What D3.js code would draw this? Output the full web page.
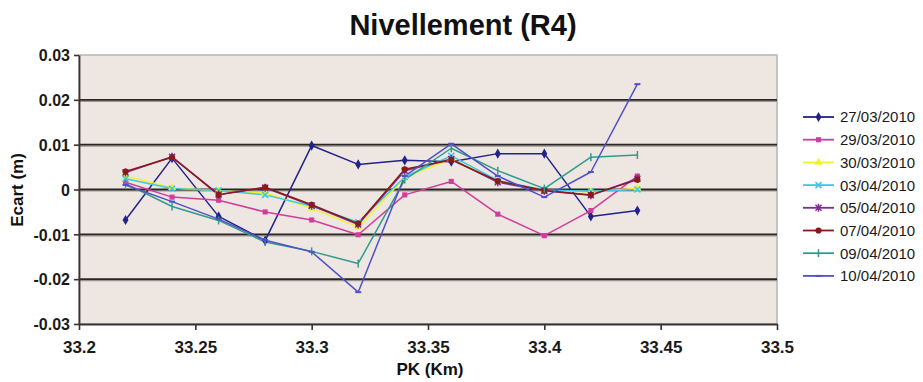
<!DOCTYPE html>
<html><head><meta charset="utf-8">
<script src="https://cdn.jsdelivr.net/npm/d3@7"></script>
<style>
html,body{margin:0;padding:0;background:#fff;}
svg{display:block;font-family:"Liberation Sans",Arial,Helvetica,sans-serif;}
</style></head>
<body><svg id="c" width="923" height="382"></svg>
<script>
const pk = [33.22,33.24,33.26,33.28,33.30,33.32,33.34,33.36,33.38,33.40,33.42,33.44];
const s27_03 = [-0.0068,0.0070,-0.0060,-0.0114,0.0098,0.0056,0.0065,0.0062,0.0080,0.0080,-0.0060,-0.0047];
const s29_03 = [0.0016,-0.0017,-0.0024,-0.0050,-0.0068,-0.0101,-0.0012,0.0018,-0.0055,-0.0103,-0.0047,0.0030];
const s30_03 = [0.0030,0.0004,-0.0003,-0.0008,-0.0042,-0.0084,0.0027,0.0068,0.0018,-0.0003,-0.0005,0.0003];
const s03_04 = [0.0024,0.0002,-0.0002,-0.0012,-0.0037,-0.0073,0.0028,0.0075,0.0020,-0.0001,-0.0004,0.0000];
const s05_04 = [0.0038,0.0073,-0.0011,0.0004,-0.0036,-0.0078,0.0042,0.0068,0.0016,-0.0003,-0.0013,0.0024];
const s07_04 = [0.0040,0.0072,-0.0012,0.0005,-0.0034,-0.0076,0.0045,0.0066,0.0019,-0.0002,-0.0012,0.0022];
const s09_04 = [0.0013,-0.0038,-0.0069,-0.0117,-0.0138,-0.0165,0.0022,0.0092,0.0042,0.0002,0.0072,0.0077];
const s10_04 = [0.0010,-0.0027,-0.0066,-0.0113,-0.0139,-0.0229,0.0030,0.0102,0.0030,-0.0017,0.0039,0.0235];
const seriesNames = ["27/03/2010","29/03/2010","30/03/2010","03/04/2010","05/04/2010","07/04/2010","09/04/2010","10/04/2010"];
const seriesValues = [s27_03,s29_03,s30_03,s03_04,s05_04,s07_04,s09_04,s10_04];
const seriesColors = ["#22228a","#d23c9c","#f2f22a","#3cc8e6","#7a2e94","#8a1a1a","#2f9c8e","#5050c8"];
const seriesMarkers = ["diamond","square","triangle","x","star","circle","plus","dash"];
const xTicks = [33.2,33.25,33.3,33.35,33.4,33.45,33.5];
const yTicks = [-0.03,-0.02,-0.01,0,0.01,0.02,0.03];
const title = "Nivellement (R4)";
const xLabel = "PK (Km)";
const yLabel = "Ecart (m)";

const svg = d3.select("#c");
const L = 79, R = 777, T = 55, B = 324;
const x = d3.scaleLinear().domain([33.2,33.5]).range([L,R]);
const y = d3.scaleLinear().domain([-0.03,0.03]).range([B,T]);

// plot background
svg.append("rect").attr("x",L).attr("y",T).attr("width",R-L).attr("height",B-T)
  .attr("fill","#eee6e1").attr("stroke","#b8b4b2").attr("stroke-width",1.5);

// gridlines
const grid = yTicks.filter(v => v > -0.03 && v < 0.03);
svg.append("g").selectAll("line.sh").data(grid).join("line")
  .attr("x1",L).attr("x2",R).attr("y1",d=>y(d)+1.5).attr("y2",d=>y(d)+1.5)
  .attr("stroke","#9a9490").attr("stroke-width",1.2);
svg.append("g").selectAll("line.g").data(grid).join("line")
  .attr("x1",L).attr("x2",R).attr("y1",d=>y(d)).attr("y2",d=>y(d))
  .attr("stroke","#2a2624").attr("stroke-width",1.8);

// axes
const fmtY = d => d === 0 ? "0" : d.toFixed(2);
const yAxis = svg.append("g").attr("transform",`translate(${L},0)`)
  .call(d3.axisLeft(y).tickValues(yTicks).tickFormat(fmtY).tickSize(5).tickSizeOuter(0));
const xAxis = svg.append("g").attr("transform",`translate(0,${B})`)
  .call(d3.axisBottom(x).tickValues(xTicks).tickFormat(d=>String(+d.toFixed(2))).tickSize(6).tickSizeOuter(0));
[yAxis,xAxis].forEach(a=>{
  a.select(".domain").attr("stroke","#3a3230").attr("stroke-width",1.8);
  a.selectAll(".tick line").attr("stroke","#3a3230").attr("stroke-width",1.6);
  a.selectAll("text").attr("fill","#1a1a1a").attr("font-size",16)
    .attr("font-family","'Liberation Sans',Arial,sans-serif").attr("font-weight","bold");
});
yAxis.selectAll("text").attr("dx",-1).attr("dy","0.36em");
xAxis.selectAll("text").attr("font-size",17).attr("dy","1.2em");

// lines
const line = d3.line().x((d,i)=>x(pk[i])).y(d=>y(d));
const sym = {
  diamond: d3.symbol().type(d3.symbolDiamond).size(30),
  square: d3.symbol().type(d3.symbolSquare).size(26),
  triangle: d3.symbol().type(d3.symbolTriangle).size(28),
  circle: d3.symbol().type(d3.symbolCircle).size(30),
};
const gLines = svg.append("g");
seriesValues.forEach((vals,k)=>{
  const col = seriesColors[k];
  gLines.append("path").datum(vals).attr("d",line).attr("fill","none")
    .attr("stroke",col).attr("stroke-width",1.5).attr("stroke-linejoin","round");
});
function drawMarker(g, type, cx, cy, col){
  if (sym[type]) {
    g.append("path").attr("d",sym[type]()).attr("transform",`translate(${cx},${cy})`).attr("fill",col);
  } else if (type === "x") {
    g.append("path").attr("d",`M${cx-3},${cy-3}L${cx+3},${cy+3}M${cx-3},${cy+3}L${cx+3},${cy-3}`)
      .attr("stroke",col).attr("stroke-width",1.5);
  } else if (type === "star") {
    g.append("path").attr("d",`M${cx-3},${cy-3}L${cx+3},${cy+3}M${cx-3},${cy+3}L${cx+3},${cy-3}M${cx},${cy-4}L${cx},${cy+4}`)
      .attr("stroke",col).attr("stroke-width",1.5);
  } else if (type === "plus") {
    g.append("path").attr("d",`M${cx},${cy-4}L${cx},${cy+4}`)
      .attr("stroke",col).attr("stroke-width",1.5);
  } else if (type === "dash") {
    g.append("path").attr("d",`M${cx-3},${cy}L${cx+3},${cy}`)
      .attr("stroke",col).attr("stroke-width",2);
  }
}
const gMarks = svg.append("g");
seriesValues.forEach((vals,k)=>{
  vals.forEach((v,i)=>drawMarker(gMarks, seriesMarkers[k], x(pk[i]), y(v), seriesColors[k]));
});

// legend
const lg = svg.append("g");
seriesNames.forEach((n,k)=>{
  const yy = 117 + k*22.7;
  lg.append("line").attr("x1",803).attr("x2",834).attr("y1",yy).attr("y2",yy)
    .attr("stroke",seriesColors[k]).attr("stroke-width",1.8);
  drawMarker(lg, seriesMarkers[k], 818.5, yy, seriesColors[k]);
  lg.append("text").attr("x",840).attr("y",yy).attr("dy","0.36em")
    .attr("font-size",15).attr("fill","#1a1a1a").text(n);
});

// titles
svg.append("text").attr("x",463).attr("y",35).attr("text-anchor","middle")
  .attr("font-size",29).attr("font-weight","bold").attr("fill","#111").text(title);
svg.append("text").attr("x",430).attr("y",375).attr("text-anchor","middle")
  .attr("font-size",17).attr("font-weight","bold").attr("fill","#111").text(xLabel);
svg.append("text").attr("transform","translate(23,190) rotate(-90)").attr("text-anchor","middle")
  .attr("font-size",17).attr("font-weight","bold").attr("fill","#111").text(yLabel);
</script></body></html>
